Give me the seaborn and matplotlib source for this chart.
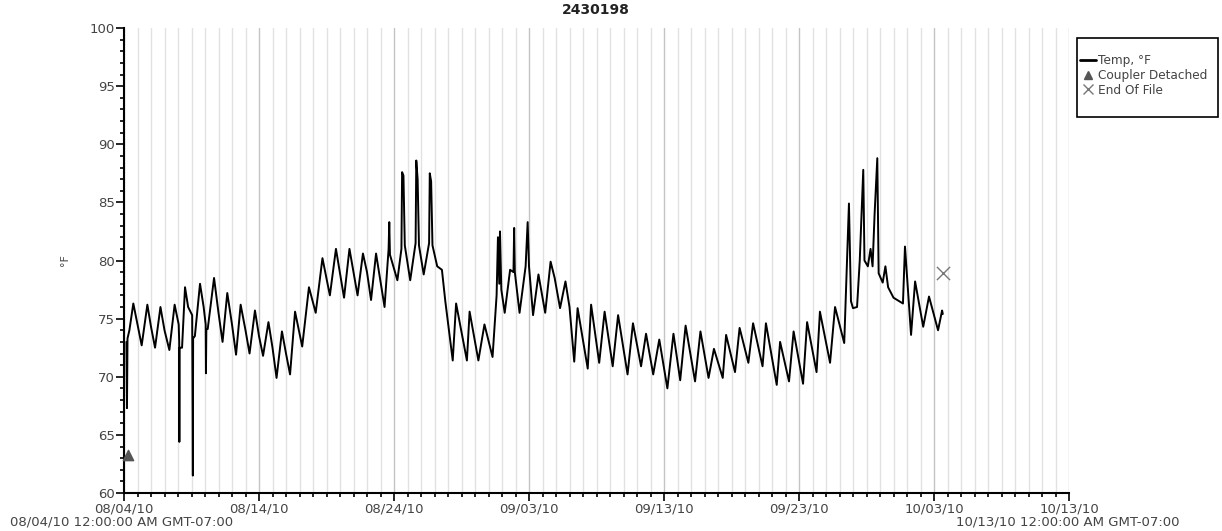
import pandas as pd
import seaborn as sns
import matplotlib.pyplot as plt
import matplotlib.dates as mdates
from matplotlib.lines import Line2D
from matplotlib.patches import Rectangle

START = pd.Timestamp("2010-08-04")

# days since 08/04/10 00:00 and temperature
day_offset = [
    0.18, 0.22, 0.26, 0.40, 0.69, 1.00, 1.31, 1.73, 2.00, 2.30, 2.70, 3.00,
    3.36, 3.75, 4.05, 4.09, 4.10, 4.11, 4.30, 4.52, 4.75, 5.05, 5.10, 5.12,
    5.25, 5.63, 5.90, 6.05, 6.07, 6.10, 6.20, 6.67, 7.00, 7.30, 7.65, 8.00,
    8.30, 8.64, 9.00, 9.30, 9.70, 10.00, 10.30, 10.70, 11.00, 11.30, 11.70,
    12.00, 12.30, 12.67, 13.20, 13.70, 14.20, 14.70, 15.25, 15.70, 16.30,
    16.70, 17.30, 17.70, 18.00, 18.30, 18.67, 19.30, 19.60, 19.65, 19.70,
    20.25, 20.55, 20.60, 20.70, 20.80, 21.20, 21.60, 21.65, 21.75, 21.85,
    22.20, 22.60, 22.65, 22.75, 22.85, 23.20, 23.55, 23.80, 24.35, 24.60,
    25.40, 25.60, 26.25, 26.70, 27.30, 27.60, 27.70, 27.80, 27.85, 27.95,
    28.20, 28.60, 28.85, 28.90, 28.95, 29.30, 29.75, 29.90, 30.00, 30.30,
    30.70, 31.20, 31.60, 31.90, 32.30, 32.70, 33.00, 33.35, 33.60, 34.35,
    34.60, 35.20, 35.60, 36.20, 36.60, 37.30, 37.70, 38.30, 38.67, 39.20,
    39.65, 40.25, 40.70, 41.20, 41.60, 42.30, 42.70, 43.30, 43.70, 44.35,
    44.60, 45.26, 45.60, 46.25, 46.60, 47.30, 47.55, 48.35, 48.60, 49.26,
    49.60, 50.30, 50.60, 51.30, 51.55, 52.30, 52.67, 53.35, 53.50, 53.70,
    53.85, 54.00, 54.30, 54.50, 54.76, 54.85, 55.10, 55.30, 55.45, 55.60,
    55.80, 55.90, 56.20, 56.40, 56.60, 57.00, 57.70, 57.85, 58.30, 58.60,
    59.20, 59.63, 60.30, 60.60, 60.65,
]
temp_f = [
    73.0, 67.3, 73.3, 74.0, 76.3, 74.5, 72.7, 76.2, 74.3, 72.5, 76.0, 74.0,
    72.3, 76.2, 74.5, 73.0, 64.4, 72.5, 72.5, 77.7, 76.0, 75.3, 61.5, 73.3,
    73.5, 78.0, 76.0, 74.5, 70.3, 74.1, 74.1, 78.5, 75.5, 73.0, 77.2, 74.5,
    71.9, 76.2, 74.0, 72.0, 75.7, 73.5, 71.8, 74.7, 72.5, 69.9, 73.9,
    72.0, 70.2, 75.6, 72.6, 77.7, 75.5, 80.2, 77.0, 81.0, 76.8,
    81.0, 77.0, 80.6, 79.0, 76.6, 80.6, 76.0, 81.0, 83.3, 80.5,
    78.3, 81.0, 87.6, 87.3, 81.3, 78.3, 81.5, 88.6, 87.0, 81.3,
    78.8, 81.5, 87.5, 86.8, 81.3, 79.5, 79.2, 76.5, 71.4, 76.3,
    71.4, 75.6, 71.4, 74.5, 71.7, 77.0, 82.0, 78.0, 82.5, 77.5,
    75.5, 79.2, 79.0, 82.8, 79.0, 75.5, 79.5, 83.3, 79.5, 75.3,
    78.8, 75.5, 79.9, 78.5, 75.9, 78.2, 76.0, 71.3, 75.9, 70.7,
    76.2, 71.2, 75.6, 70.9, 75.3, 70.2, 74.6, 70.9, 73.7, 70.2,
    73.2, 69.0, 73.7, 69.7, 74.4, 69.6, 73.9, 69.9, 72.4, 69.9,
    73.6, 70.4, 74.2, 71.2, 74.6, 70.9, 74.6, 69.3, 73.0, 69.6,
    73.9, 69.4, 74.7, 70.4, 75.6, 71.2, 76.0, 72.9, 78.0, 84.9,
    76.5, 75.9, 76.0, 80.0, 87.8, 80.0, 79.5, 81.0, 79.5, 84.0,
    88.8, 78.9, 78.1, 79.5, 77.7, 76.8, 76.3, 81.2, 73.6, 78.2,
    74.3, 76.9, 74.0, 75.7, 75.4,
]

# event markers
coupler_day = 0.3
coupler_temp = 63.3
eof_day = 60.7
eof_temp = 78.9

tick_dates = ["08/04/10", "08/14/10", "08/24/10", "09/03/10",
              "09/13/10", "09/23/10", "10/03/10", "10/13/10"]

df = pd.DataFrame({
    "time": START + pd.to_timedelta(day_offset, unit="D"),
    "temp": temp_f,
})

sns.set_theme(style="white")
plt.rcParams["font.family"] = ["DejaVu Sans"]
text_color = "#444444"

fig = plt.figure(figsize=(12.22, 5.31), dpi=100)
ax = fig.add_axes([124 / 1222, 38 / 531, 945 / 1222, 465 / 531])

x_start = START
x_end = START + pd.Timedelta(days=70)

sns.lineplot(data=df, x="time", y="temp", ax=ax, color="black",
             linewidth=1.4, legend=False)

ax.scatter([START + pd.Timedelta(days=coupler_day)], [coupler_temp],
           marker="^", s=55, color="#555555", zorder=5, clip_on=False)
ax.scatter([START + pd.Timedelta(days=eof_day)], [eof_temp],
           marker="x", s=90, color="#777777", linewidths=1.0, zorder=5)

ax.set_xlim(x_start, x_end)
ax.set_ylim(60, 100)

major = [pd.to_datetime(d, format="%m/%d/%y") for d in tick_dates]
ax.set_xticks(major)
ax.set_xticklabels(tick_dates)
ax.xaxis.set_minor_locator(mdates.DayLocator())
ax.set_yticks(range(60, 101, 5))
ax.yaxis.set_minor_locator(plt.MultipleLocator(1))

ax.grid(False)
ax.grid(which="minor", axis="x", color="#e2e2e2", linewidth=1.0)
ax.grid(which="major", axis="x", color="#c4c4c4", linewidth=1.0)
ax.set_axisbelow(True)

for side in ["top", "right"]:
    ax.spines[side].set_visible(False)
for side in ["left", "bottom"]:
    ax.spines[side].set_color("black")
    ax.spines[side].set_linewidth(1.5)

ax.tick_params(which="major", direction="out", length=5.8, width=1.2,
               color="black", labelsize=9.5, labelcolor=text_color, pad=1,
               left=True, bottom=True)
ax.tick_params(which="minor", direction="out", length=3, width=1.2,
               color="black", left=True, bottom=True)

ax.set_xlabel("")
ax.set_ylabel("°F", fontsize=8, color=text_color, labelpad=14)

fig.text(596 / 1222, 1 - 10 / 531, "2430198", ha="center", va="center",
         fontsize=10, fontweight="bold", color="#222222")
fig.text(10 / 1222, 1 - 522 / 531, "08/04/10 12:00:00 AM GMT-07:00",
         ha="left", va="center", fontsize=9.5, color=text_color)
fig.text(1180 / 1222, 1 - 522 / 531, "10/13/10 12:00:00 AM GMT-07:00",
         ha="right", va="center", fontsize=9.5, color=text_color)

# legend box
fig.patches.append(Rectangle((1077 / 1222, 1 - 117 / 531), 141 / 1222,
                             79 / 531, transform=fig.transFigure,
                             fill=False, edgecolor="black", linewidth=1.2))
handles = [
    Line2D([], [], color="black", linewidth=2),
    Line2D([], [], color="#555555", marker="^", linestyle="none",
           markersize=6),
    Line2D([], [], color="#777777", marker="x", linestyle="none",
           markersize=7, markeredgewidth=1.0),
]
labels = ["Temp, °F", "Coupler Detached", "End Of File"]
leg = fig.legend(handles, labels, loc="upper left",
                 bbox_to_anchor=(1080 / 1222, 1 - 54 / 531), frameon=False,
                 fontsize=8.7, handlelength=1.3, handletextpad=0.2,
                 labelspacing=0.15, borderpad=0, borderaxespad=0)
for t in leg.get_texts():
    t.set_color(text_color)

fig.savefig("out.png", dpi=100)
